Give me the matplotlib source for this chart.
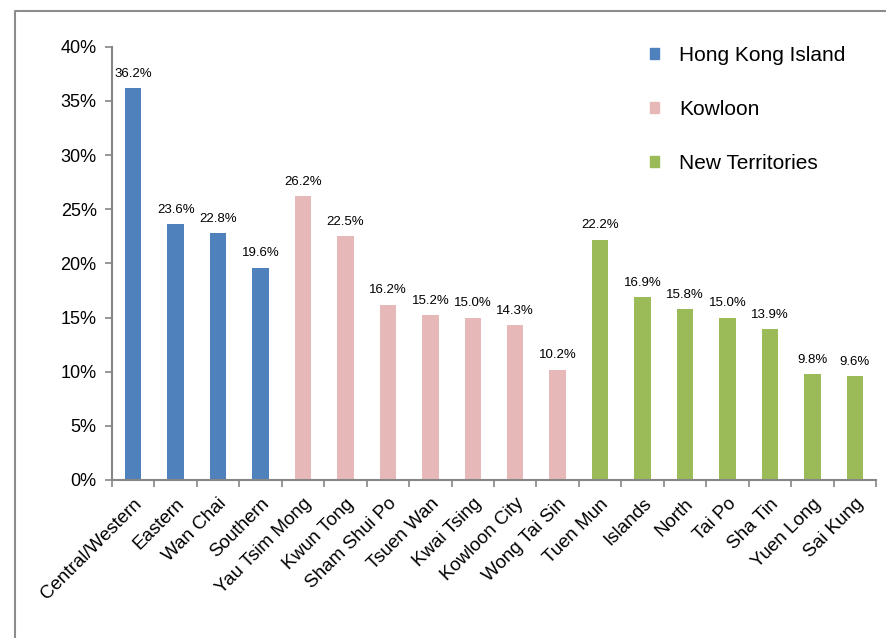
#!/usr/bin/env python3
"""Bar chart of percentages by Hong Kong district, grouped by region."""

import numpy as np
import matplotlib.pyplot as plt
from matplotlib.lines import Line2D
from matplotlib.patches import Patch
from matplotlib.ticker import FixedLocator

plt.rcParams['font.family'] = ['Liberation Sans', 'DejaVu Sans']

districts = ['Central/Western', 'Eastern', 'Wan Chai', 'Southern',
             'Yau Tsim Mong', 'Kwun Tong', 'Sham Shui Po', 'Tsuen Wan',
             'Kwai Tsing', 'Kowloon City', 'Wong Tai Sin', 'Tuen Mun',
             'Islands', 'North', 'Tai Po', 'Sha Tin', 'Yuen Long', 'Sai Kung']
values = [36.2, 23.6, 22.8, 19.6,
          26.2, 22.5, 16.2, 15.2, 15.0, 14.3, 10.2,
          22.2, 16.9, 15.8, 15.0, 13.9, 9.8, 9.6]
regions = ['Hong Kong Island'] * 4 + ['Kowloon'] * 7 + ['New Territories'] * 7
region_names = ['Hong Kong Island', 'Kowloon', 'New Territories']
region_colors = {'Hong Kong Island': '#4F81BD',
                 'Kowloon': '#E6B9B8',
                 'New Territories': '#9BBB59'}

fig = plt.figure(figsize=(8.87, 6.38), dpi=100)
ax = fig.add_axes([112 / 887, 158 / 638, 764 / 887, 433.3 / 638])

x = np.arange(len(districts))
colors = [region_colors[r] for r in regions]
ax.bar(x, values, width=0.39, color=colors)

# value labels above bars
for xi, v in zip(x, values):
    ax.annotate(f'{v:.1f}%', (xi, v), xytext=(0, 6), textcoords='offset points',
                ha='center', va='bottom', fontsize=9.5)

ax.set_xlim(-0.5, len(districts) - 0.5)
ax.set_ylim(0, 40)
ax.set_yticks(np.arange(0, 41, 5))
ax.set_yticklabels([f'{t}%' for t in range(0, 41, 5)], fontsize=13)
ax.set_xticks(x)
ax.set_xticklabels(districts, rotation=45, ha='right', rotation_mode='anchor',
                   fontsize=13.5)
ax.tick_params(axis='x', which='major', length=0, pad=11)
ax.xaxis.set_minor_locator(FixedLocator(np.arange(-0.5, len(districts), 1)))
ax.tick_params(axis='x', which='minor', length=5, color='#868686', width=1.2)
ax.tick_params(axis='y', length=5, color='#868686', width=1.2, pad=6)

for side in ['top', 'right']:
    ax.spines[side].set_visible(False)
for side in ['left', 'bottom']:
    ax.spines[side].set_color('#868686')
    ax.spines[side].set_linewidth(1.5)

handles = [Patch(color=region_colors[r]) for r in region_names]
ax.legend(handles, region_names, loc='upper left', bbox_to_anchor=(0.679, 1.045),
          frameon=False, fontsize=15, handlelength=0.47, handleheight=0.47,
          handletextpad=0.95, labelspacing=1.68)

# outer frame (top and left edges of the chart area)
fig.add_artist(Line2D([15 / 887, 15 / 887, 1.0], [0.0, 1 - 11 / 638, 1 - 11 / 638],
                      transform=fig.transFigure, color='#8C8C8C', linewidth=1.5))

fig.savefig('out.png', dpi=100)
